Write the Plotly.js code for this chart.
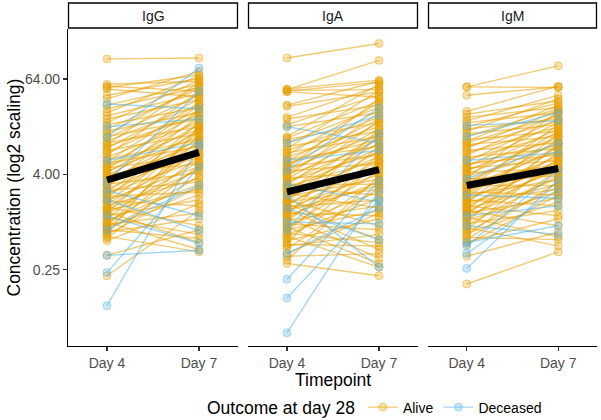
<!DOCTYPE html>
<html>
<head>
<meta charset="utf-8">
<script src="https://cdn.plot.ly/plotly-3.0.1.min.js"></script>
<style>
  html, body { margin: 0; padding: 0; background: #fff; }
  #chart { width: 601px; height: 420px; }
</style>
</head>
<body>
<div id="chart"></div>
<script>
// antibody types (facets) and timepoints
var igTypes = ['IgG', 'IgA', 'IgM'];
var timepoints = ['Day 4', 'Day 7'];

// IgG, one value per patient at each timepoint
var iggAliveDay4 = [115,55,52,50,48,40,36,30,27,24,22,20,18,17,15,14,13,12,11.5,10.5,10,9.5,9,8.5,8,7.5,7,6.6,6.2,5.8,5.5,5.2,5,4.8,4.6,4.4,4.2,4,3.8,3.6,3.5,3.3,3.2,3.0,2.9,2.8,2.6,2.5,2.4,2.3,2.2,2.1,2.0,1.9,1.85,1.8,1.7,1.6,1.55,1.5,1.45,1.4,1.35,1.3,1.25,1.2,1.15,1.1,1.05,1.0,0.97,0.93,0.9,0.87,0.84,0.8,0.78,0.75,0.72,0.7,0.66,0.62,0.58,0.38,0.21];
var iggAliveDay7 = [118,60,45,72,38,65,80,55,50,70,42,35,62,28,48,24,52,20,40,30,16,58,22,36,13,26,44,18,11,32,9,24,15,7,30,12,20,5.5,17,9.5,26,6.5,14,4.2,11,22,8,3.2,15,6,10,2.4,18,5,1.6,12,7.5,3.6,0.9,9,4.5,2.6,0.55,14,5.8,1.9,0.7,8.5,3,0.45,4.8,1.3,11,2.2,6.8,0.62,3.8,1.1,16,2.8,0.42,5.2,1.7,0.8,1.4];
var iggDeceasedDay4 = [31,16,11.8,6,3.2,2.5,1.9,1.2,0.38,0.23,0.088,0.8];
var iggDeceasedDay7 = [27,20,88,10,45,1.2,0.78,0.54,0.44,5,9,2.9];

// IgA
var igaAliveDay4 = [118,47,48,46,45,44,30,29,21,20,17,16,12,11.5,11,10,9,8.5,8,7.5,7,6.6,6.2,5.8,5.5,5.2,5,4.8,4.6,4.4,4.2,4,3.8,3.6,3.5,3.3,3.2,3.0,2.9,2.8,2.7,2.6,2.5,2.4,2.3,2.2,2.1,2.0,1.9,1.85,1.8,1.75,1.7,1.6,1.55,1.5,1.45,1.4,1.35,1.3,1.25,1.2,1.15,1.1,1.05,1.0,0.95,0.9,0.87,0.84,0.8,0.76,0.72,0.7,0.66,0.62,0.58,0.55,0.5,0.46,0.4,0.37,0.33,0.3,0.52];
var igaAliveDay7 = [180,110,62,47,58,38,60,44,52,30,40,24,55,34,18,28,14,46,21,12,32,16,9,26,11,20,7,36,13,5.5,18,9.5,24,4.2,15,7.5,11,3,19,6,2.2,8.5,13,4.8,1.5,10,3.5,6.8,0.9,12,2.6,5.2,0.6,8,1.9,4,0.45,2.9,6,1.2,15,3.2,0.35,5,1.6,9,0.8,2.4,0.3,4.4,1.4,7,0.55,2,0.27,3.4,1.1,5.8,0.7,2.7,1.3,0.4,3.8,0.21,0.5];
var igaDeceasedDay4 = [16,10,6,4.5,3,2.2,1.5,1.0,0.4,0.19,0.11,0.04,0.8];
var igaDeceasedDay7 = [10,22,8,28,1.8,0.27,0.6,0.95,1.5,3.3,1.9,2.5,13];

// IgM
var igmAliveDay4 = [51,40,51,25,23,21,19,18,16,15,14,13,12,11,10.5,10,9.5,9,8.5,8,7.5,7,6.6,6.2,5.8,5.5,5.2,5,4.8,4.6,4.4,4.2,4.0,3.8,3.6,3.5,3.3,3.2,3.0,2.9,2.8,2.7,2.6,2.5,2.4,2.3,2.2,2.1,2.0,1.9,1.85,1.8,1.75,1.7,1.6,1.55,1.5,1.45,1.4,1.35,1.3,1.25,1.2,1.15,1.1,1.05,1.0,0.95,0.9,0.85,0.8,0.76,0.72,0.68,0.64,0.6,0.56,0.52,0.37,0.165];
var igmAliveDay7 = [94,51,50,52,34,28,40,24,32,20,36,17,27,14,30,22,12,19,26,10,16,23,8.5,13,20,7,11,18,6,9.5,15,4.8,12,7.5,25,3.8,10,5.5,14,2.9,8,4.2,17,6.5,2.2,9,3.4,11,5,1.6,7,2.6,13,4.4,1.2,6,3,9,0.9,4.8,2,7.5,3.6,0.65,5.5,2.4,10,1.4,3.9,0.5,6.5,2.8,1.8,4.6,0.6,3.2,1.1,2.2,0.75,0.42];
var igmDeceasedDay4 = [16.5,12,6,3.5,2.2,1.2,0.55,0.5,0.4,0.26,0.9];
var igmDeceasedDay7 = [19,24,7.5,10,2.0,1.6,0.9,4.5,2.6,3.4,0.7];

// group mean per facet (black line)
var meanDay4 = [3.4, 2.4, 2.9];
var meanDay7 = [7.6, 4.6, 4.75];

// y ticks
var yTickVals = [0.25, 4, 64];
var yTickText = ['0.25', '4.00', '64.00'];

var aliveCol = '230,159,0';
var deadCol = '86,180,233';
var fontFam = 'Liberation Sans, Arial, sans-serif';

function pathTrace(day4, day7, rgb, name, axis, showLegend) {
  var xs = [], ys = [];
  for (var i = 0; i < day4.length; i++) {
    xs.push(timepoints[0], timepoints[1], null);
    ys.push(day4[i], day7[i], null);
  }
  return {
    x: xs, y: ys,
    xaxis: axis, yaxis: 'y',
    mode: 'lines+markers',
    name: name,
    legendgroup: name,
    showlegend: showLegend,
    connectgaps: false,
    line: { color: 'rgba(' + rgb + ',0.55)', width: 1.4 },
    marker: {
      size: 8,
      color: 'rgba(' + rgb + ',0.3)',
      line: { color: 'rgba(' + rgb + ',0.45)', width: 1 }
    },
    hoverinfo: 'skip'
  };
}

var facetData = [
  [iggAliveDay4, iggAliveDay7, iggDeceasedDay4, iggDeceasedDay7],
  [igaAliveDay4, igaAliveDay7, igaDeceasedDay4, igaDeceasedDay7],
  [igmAliveDay4, igmAliveDay7, igmDeceasedDay4, igmDeceasedDay7]
];
var axisIds = ['x', 'x2', 'x3'];

var data = [];
facetData.forEach(function (f, k) {
  data.push(pathTrace(f[0], f[1], aliveCol, 'Alive', axisIds[k], k === 0));
  data.push(pathTrace(f[2], f[3], deadCol, 'Deceased', axisIds[k], k === 0));
});
facetData.forEach(function (f, k) {
  data.push({
    x: timepoints, y: [meanDay4[k], meanDay7[k]],
    xaxis: axisIds[k], yaxis: 'y',
    mode: 'lines', showlegend: false, hoverinfo: 'skip',
    line: { color: '#000', width: 7 }
  });
});

var plotW = 529, plotH = 317;
var domains = [[0, 170 / plotW], [180 / plotW, 350 / plotW], [360 / plotW, 1]];

function xAxis(k) {
  return {
    domain: domains[k],
    anchor: 'y',
    type: 'category',
    range: [-0.424, 1.424],
    showgrid: false, zeroline: false,
    showline: true, linecolor: '#000', linewidth: 1.1,
    ticks: 'outside', ticklen: 4, tickcolor: '#333', tickwidth: 1.1,
    tickfont: { family: fontFam, size: 14, color: '#4d4d4d' },
    fixedrange: true
  };
}

var shapes = [], annotations = [];
igTypes.forEach(function (t, k) {
  var ref = axisIds[k] + ' domain';
  shapes.push({
    type: 'rect', xref: ref, yref: 'paper',
    x0: 0.003, x1: 0.997, y0: (346 - 28) / plotH, y1: (346 - 3) / plotH,
    line: { color: '#000', width: 1.3 }, fillcolor: '#fff', layer: 'above'
  });
  annotations.push({
    xref: ref, yref: 'paper', x: 0.5, y: (346 - 15.5) / plotH,
    xanchor: 'center', yanchor: 'middle',
    text: t, showarrow: false,
    font: { family: fontFam, size: 14, color: '#1a1a1a' }
  });
});
annotations.push({
  xref: 'paper', yref: 'paper', x: -55 / plotW, y: 0.5, textangle: -90,
  xanchor: 'center', yanchor: 'middle',
  text: 'Concentration (log2 scaling)', showarrow: false,
  font: { family: fontFam, size: 17.5, color: '#000' }
});
annotations.push({
  xref: 'paper', yref: 'paper', x: 0.5, y: (346 - 380) / plotH,
  xanchor: 'center', yanchor: 'middle',
  text: 'Timepoint', showarrow: false,
  font: { family: fontFam, size: 17.5, color: '#000' }
});

var layout = {
  width: 601, height: 420,
  margin: { l: 68, r: 4, t: 29, b: 74, autoexpand: false },
  paper_bgcolor: '#fff', plot_bgcolor: '#fff',
  font: { family: fontFam },
  xaxis: xAxis(0), xaxis2: xAxis(1), xaxis3: xAxis(2),
  yaxis: {
    domain: [0, 1], anchor: 'x',
    type: 'log',
    range: [-1.565, 2.438],
    tickvals: yTickVals, ticktext: yTickText,
    showgrid: false, zeroline: false,
    showline: true, linecolor: '#000', linewidth: 1.1,
    ticks: 'outside', ticklen: 4, tickcolor: '#333', tickwidth: 1.1,
    tickfont: { family: fontFam, size: 14, color: '#4d4d4d' },
    fixedrange: true
  },
  showlegend: true,
  legend: {
    orientation: 'h',
    x: (205 - 68) / plotW, xanchor: 'left',
    y: (346 - 408) / plotH, yanchor: 'middle',
    title: { text: 'Outcome at day 28', side: 'left', font: { size: 17.5, color: '#000' } },
    font: { size: 14, color: '#000' },
    bgcolor: 'rgba(0,0,0,0)'
  },
  shapes: shapes,
  annotations: annotations
};

Plotly.newPlot('chart', data, layout, { displayModeBar: false, staticPlot: true });
</script>
</body>
</html>
